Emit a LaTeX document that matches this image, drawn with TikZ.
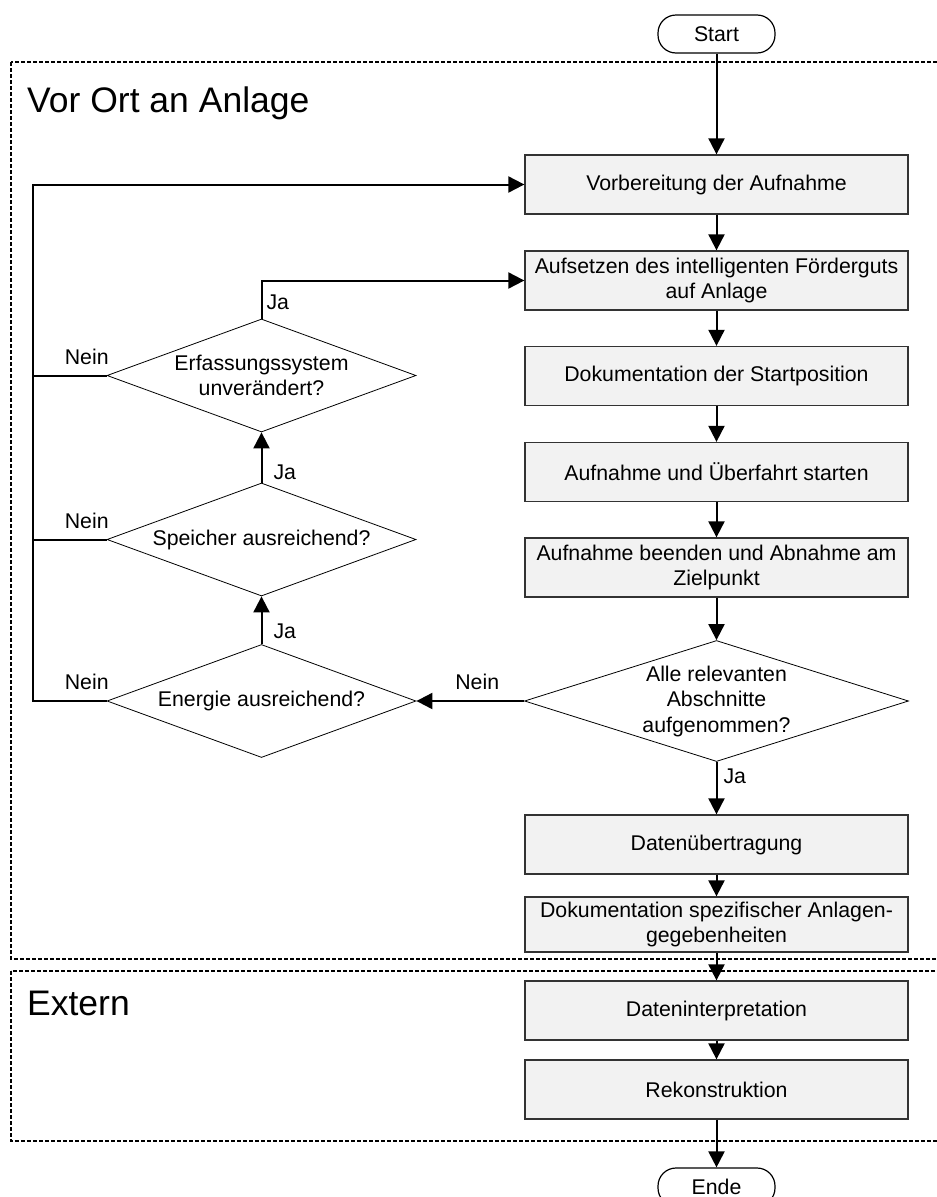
\documentclass[tikz,border=0pt]{standalone}
\usepackage{fontspec}
\setmainfont{Liberation Sans}
\usetikzlibrary{shapes.geometric,arrows.meta,calc}
\definecolor{boxfill}{HTML}{F2F2F2}
\definecolor{edgegray}{HTML}{333333}

\begin{document}
\begin{tikzpicture}[x=1pt,y=-1pt,
  every node/.style={font=\fontsize{21.3}{25.5}\selectfont, text=black},
  proc/.style={draw=edgegray, line width=1.3pt, fill=boxfill, minimum width=383pt,
    minimum height=59pt, inner sep=0pt, align=center},
  dec/.style={draw=black, line width=0.8pt, fill=white, shape=diamond,
    minimum width=309pt, minimum height=113pt, inner sep=0pt},
  term/.style={draw=black, line width=1.2pt, fill=white, rectangle, rounded corners=18pt,
    minimum width=117pt, minimum height=38pt, inner sep=0pt},
  flow/.style={line width=2pt, -{Triangle[length=16pt,width=16pt]}},
  link/.style={line width=2pt},
  lane/.style={line width=1.3pt, dash pattern=on 4pt off 2pt},
  lanetitle/.style={font=\fontsize{35.5}{40}\selectfont, inner sep=0pt, anchor=base west},
  lbl/.style={inner sep=0pt}
]
\useasboundingbox (0,0) rectangle (937,1197);
\clip (0,0) rectangle (937,1197);

% swim lanes (open to the right)
\draw[lane] (11,62) rectangle (960,959);
\draw[lane] (11,971) rectangle (960,1141);
\node[lanetitle] (laneA) at (27,112) {Vor Ort an Anlage};
\node[lanetitle] (laneB) at (27,1015) {Extern};

% main column
\node[term] (start) at (716.5,34) {Start};
\node[proc] (b1) at (716.5,184.5) {Vorbereitung der Aufnahme};
\node[proc] (b2) at (716.5,280.5) {Aufsetzen des intelligenten Förderguts\\auf Anlage};
\node[proc] (b3) at (716.5,376) {Dokumentation der Startposition};
\node[proc] (b4) at (716.5,472) {Aufnahme und Überfahrt starten};
\node[proc] (b5) at (716.5,567.5) {Aufnahme beenden und Abnahme am\\Zielpunkt};
\node[dec, minimum width=384pt, minimum height=121pt,
  label={[align=center]center:Alle relevanten\\Abschnitte\\aufgenommen?}] (d0) at (716.5,701) {};
\node[proc] (b6) at (716.5,844.5) {Datenübertragung};
\node[proc, minimum height=55pt] (b7) at (716.5,924.5) {Dokumentation spezifischer Anlagen-\\gegebenheiten};
\node[proc] (b8) at (716.5,1010.5) {Dateninterpretation};
\node[proc] (b9) at (716.5,1089.5) {Rekonstruktion};
\node[term] (ende) at (716.5,1187) {Ende};

% checks on the left
\node[dec, label={[align=center]center:Erfassungssystem\\unverändert?}] (e1) at (261.5,375.5) {};
\node[dec, label=center:Speicher ausreichend?] (e2) at (261.5,539.5) {};
\node[dec, label=center:Energie ausreichend?] (e3) at (261.5,701) {};

\coordinate (fb) at (33,0);

% main flow
\draw[flow] (start) -- (b1);
\draw[flow] (b1) -- (b2);
\draw[flow] (b2) -- (b3);
\draw[flow] (b3) -- (b4);
\draw[flow] (b4) -- (b5);
\draw[flow] (b5) -- (d0);
\draw[flow] (d0) -- node[lbl, pos=0.28, anchor=west, xshift=6pt] {Ja} (b6);
\draw[flow] (b6) -- (b7);
\draw[flow] (b7) -- (b8);
\draw[flow] (b8) -- (b9);
\draw[flow] (b9) -- (ende);

% loop back
\draw[flow] (d0.west) -- node[lbl, pos=0.435, above=10pt] {Nein} (e3.east);
\draw[flow] (e3.north) -- node[lbl, pos=0.27, anchor=west, xshift=11pt] {Ja} (e2.south);
\draw[flow] (e2.north) -- node[lbl, pos=0.2, anchor=west, xshift=11pt] {Ja} (e1.south);
\draw[flow] (e1.north) |- node[lbl, pos=0.21, anchor=west, xshift=4pt] {Ja} (b2.west);

\draw[flow] (e3.west) -- node[lbl, pos=0.27, above=10pt] {Nein} (fb |- e3.west) |- (b1.west);
\draw[link] (e2.west) -- node[lbl, pos=0.27, above=10pt] {Nein} (fb |- e2.west);
\draw[link] (e1.west) -- node[lbl, pos=0.27, above=10pt] {Nein} (fb |- e1.west);
\end{tikzpicture}
\end{document}
